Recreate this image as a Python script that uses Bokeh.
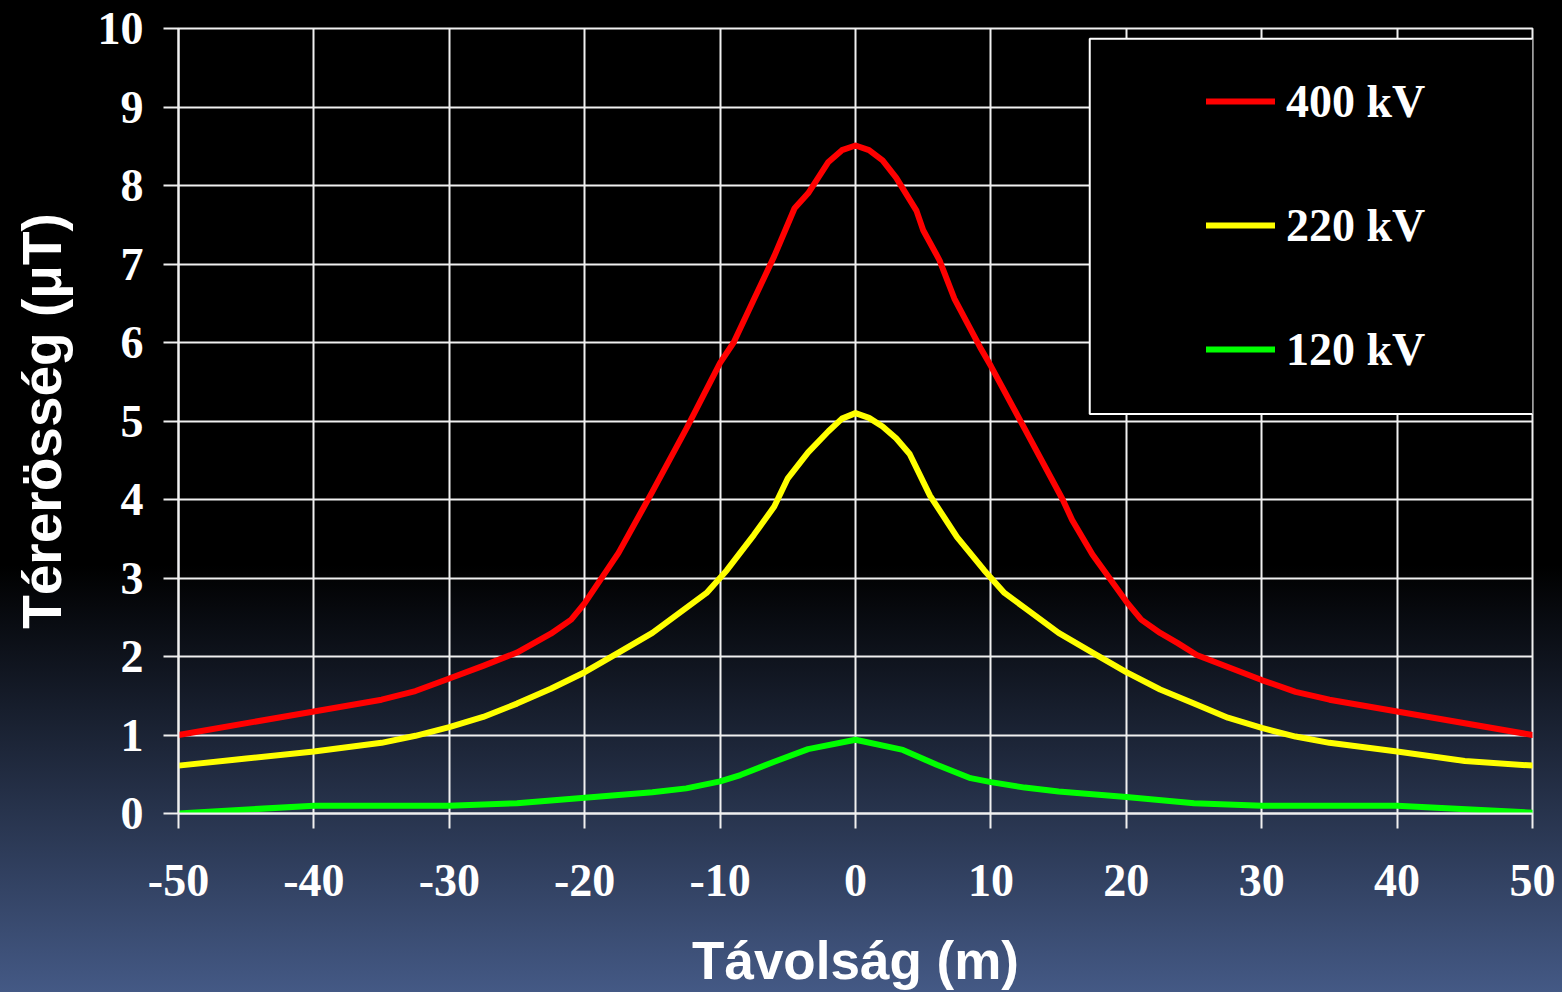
from bokeh.plotting import figure
from bokeh.models import Range1d, FixedTicker, Legend, LegendItem, BoxAnnotation, PrintfTickFormatter
from bokeh.embed import file_html
from bokeh.resources import INLINE

# ---- data ----
x_400 = [-50, -40, -35, -32.5, -30, -27.5, -25, -22.5, -21, -20, -17.5, -15, -12.5, -10, -9, -7.5, -6,
         -4.5, -3.5, -2, -1, 0, 1, 2, 3, 4.5, 5, 6.2, 7.3, 9.2, 10, 12.5, 15.3, 16, 17.5, 20, 21.1,
         22.5, 23.8, 25.2, 30, 32.5, 35, 40, 50]
y_400 = [1.00, 1.30, 1.45, 1.56, 1.72, 1.88, 2.05, 2.29, 2.47, 2.68, 3.32, 4.10, 4.90, 5.74, 6.00, 6.55, 7.10,
         7.71, 7.90, 8.30, 8.45, 8.51, 8.45, 8.32, 8.10, 7.68, 7.43, 7.05, 6.56, 5.94, 5.70, 4.90, 4.00, 3.74, 3.30, 2.70, 2.47,
         2.30, 2.17, 2.02, 1.70, 1.55, 1.45, 1.30, 1.00]

x_220 = [-50, -45, -40, -35, -32.5, -30, -27.5, -25, -22.5, -20, -17.5, -15, -12.5, -11, -9.5, -7.5, -6,
         -5, -3.5, -2, -1, 0, 1, 2, 3, 4, 5.5, 7.5, 9.5, 11, 12.5, 15, 17.5, 20, 22.5, 25, 27.5, 30,
         32.5, 35, 40, 45, 50]
y_220 = [0.61, 0.70, 0.79, 0.90, 0.99, 1.10, 1.23, 1.40, 1.59, 1.80, 2.05, 2.30, 2.62, 2.81, 3.10, 3.55, 3.91,
         4.27, 4.60, 4.87, 5.03, 5.10, 5.04, 4.93, 4.78, 4.58, 4.05, 3.52, 3.10, 2.81, 2.62, 2.30, 2.05, 1.80, 1.58, 1.40, 1.22, 1.09,
         0.98, 0.90, 0.79, 0.67, 0.61]

x_120 = [-50, -40, -30, -25, -20, -15, -12.5, -10, -8.5, -6, -3.5, 0, 3.5, 6, 8.5, 10, 12.5, 15,
         20, 25, 30, 40, 50]
y_120 = [0.00, 0.10, 0.10, 0.13, 0.20, 0.27, 0.32, 0.41, 0.49, 0.66, 0.82, 0.94, 0.81, 0.62, 0.45, 0.40, 0.33, 0.28,
         0.21, 0.13, 0.10, 0.10, 0.01]

x_ticks = [-50, -40, -30, -20, -10, 0, 10, 20, 30, 40, 50]
y_ticks = [0, 1, 2, 3, 4, 5, 6, 7, 8, 9, 10]
series_labels = ["400 kV", "220 kV", "120 kV"]
series_colors = ["#ff0000", "#ffff00", "#00ff00"]

x_title = "Távolság (m)"
y_title = "Térerösség (μT)"

# ---- figure ----
p = figure(width=1562, height=992, output_backend="svg", toolbar_location=None,
           x_range=Range1d(-50, 50), y_range=Range1d(0, 10),
           min_border_left=178, min_border_right=30, min_border_top=28, min_border_bottom=178)
p.border_fill_color = None
p.background_fill_color = None
p.outline_line_color = "#f0f0f0"
p.outline_line_width = 2
p.styles = {"background": "linear-gradient(to bottom, #000000 0%, #000000 57%, #445985 100%)"}

for ax in (p.xaxis[0], p.yaxis[0]):
    ax.axis_line_color = "#f0f0f0"
    ax.axis_line_width = 2
    ax.major_tick_line_color = "#f0f0f0"
    ax.major_tick_line_width = 2
    ax.major_tick_out = 15
    ax.major_tick_in = 0
    ax.minor_tick_line_color = None
    ax.major_label_text_color = "white"
    ax.major_label_text_font = "Liberation Serif"
    ax.major_label_text_font_style = "bold"
    ax.major_label_text_font_size = "46px"
    ax.axis_label_text_color = "white"
    ax.axis_label_text_font = "Liberation Sans"
    ax.axis_label_text_font_style = "bold"
    ax.formatter = PrintfTickFormatter(format="%d")

p.xaxis[0].ticker = FixedTicker(ticks=x_ticks)
p.yaxis[0].ticker = FixedTicker(ticks=y_ticks)
p.xaxis[0].major_label_standoff = 36
p.yaxis[0].major_label_standoff = 20
p.xaxis[0].axis_label = x_title
p.yaxis[0].axis_label = y_title
p.xaxis[0].axis_label_text_font_size = "53px"
p.yaxis[0].axis_label_text_font_size = "55px"
p.xaxis[0].axis_label_standoff = 32
p.yaxis[0].axis_label_standoff = 22

for g in (p.xgrid[0], p.ygrid[0]):
    g.grid_line_color = "#f0f0f0"
    g.grid_line_width = 2
p.xgrid[0].ticker = FixedTicker(ticks=x_ticks)
p.ygrid[0].ticker = FixedTicker(ticks=y_ticks)

# legend box
box = BoxAnnotation(left=17.3, right=50.07, top=9.87, bottom=5.09,
                    fill_color="black", fill_alpha=1.0, line_color="white", line_width=2, line_alpha=1.0)
p.add_layout(box)

renderers = []
for xs, ys, c in ((x_400, y_400, series_colors[0]), (x_220, y_220, series_colors[1]), (x_120, y_120, series_colors[2])):
    r = p.line(xs, ys, line_color=c, line_width=6, line_join="round", line_cap="round")
    renderers.append(r)

legend = Legend(items=[LegendItem(label=lab, renderers=[r]) for lab, r in zip(series_labels, renderers)],
                location=(1028, 434), padding=0, margin=0, spacing=64,
                glyph_width=69, glyph_height=60, label_height=60, label_standoff=11,
                label_text_color="white", label_text_font="Liberation Serif",
                label_text_font_style="bold", label_text_font_size="46px",
                background_fill_alpha=0, border_line_alpha=0)
p.add_layout(legend)

open("out.html", "w").write(file_html(p, INLINE))
